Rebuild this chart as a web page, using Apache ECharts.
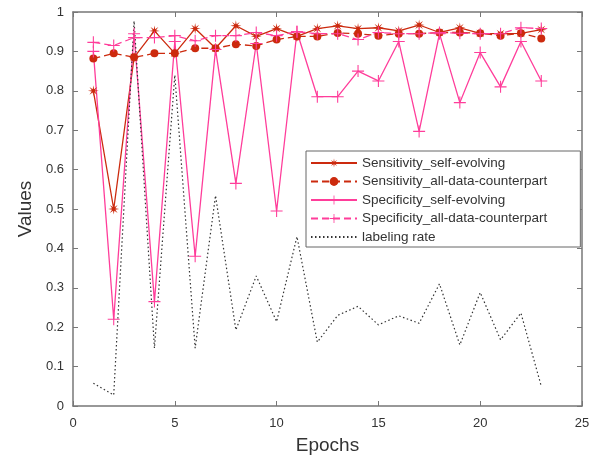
<!DOCTYPE html>
<html><head><meta charset="utf-8">
<script src="https://cdn.jsdelivr.net/npm/echarts@6/dist/echarts.min.js"></script>
<style>html,body{margin:0;padding:0;background:#fff}#c{width:593px;height:459px}</style>
</head><body><div id="c"></div>
<script>
const epochs = [1,2,3,4,5,6,7,8,9,10,11,12,13,14,15,16,17,18,19,20,21,22,23];
const sensSelf = [0.80,0.50,0.885,0.952,0.895,0.958,0.908,0.965,0.938,0.958,0.938,0.958,0.965,0.958,0.96,0.952,0.967,0.948,0.96,0.946,0.945,0.946,0.955];
const sensAll  = [0.882,0.895,0.885,0.895,0.895,0.908,0.908,0.918,0.914,0.93,0.938,0.938,0.947,0.945,0.94,0.945,0.945,0.948,0.948,0.946,0.94,0.946,0.933];
const specSelf = [0.90,0.22,0.945,0.265,0.925,0.38,0.905,0.565,0.92,0.495,0.95,0.785,0.785,0.85,0.825,0.925,0.697,0.945,0.77,0.897,0.81,0.925,0.825];
const specAll  = [0.923,0.915,0.935,0.935,0.94,0.927,0.94,0.94,0.948,0.94,0.95,0.945,0.945,0.93,0.948,0.945,0.945,0.948,0.946,0.945,0.945,0.96,0.958];
const labelRate = [0.058,0.028,0.977,0.147,0.84,0.147,0.534,0.193,0.33,0.214,0.43,0.162,0.23,0.253,0.206,0.229,0.21,0.31,0.155,0.288,0.168,0.236,0.05];
const names = ['Sensitivity_self-evolving','Sensitivity_all-data-counterpart','Specificity_self-evolving','Specificity_all-data-counterpart','labeling rate'];

function starPath(n){let p=[];for(let i=0;i<2*n;i++){const r=i%2?0.32:1;const a=Math.PI*i/n-Math.PI/2;p.push((i?'L':'M')+(r*Math.cos(a)).toFixed(3)+','+(r*Math.sin(a)).toFixed(3));}return 'path://'+p.join('')+'Z';}
const star = starPath(8);
const plus = 'path://M-0.09,-1H0.09V-0.09H1V0.09H0.09V1H-0.09V0.09H-1V-0.09H-0.09Z';
const red='#cc2a0e', pink='#ff3d9a';
const pair = a => a.map((v,i)=>[epochs[i],v]);
const font='Liberation Sans';
const axisCommon = {axisLine:{onZero:false,lineStyle:{color:'#777',width:1.5}},axisTick:{inside:true,length:5,lineStyle:{color:'#777'}},splitLine:{show:false}};
const chart = echarts.init(document.getElementById('c'));
chart.setOption({
  animation:false,
  textStyle:{fontFamily:font},
  grid:{left:73,right:11,top:12,bottom:53,containLabel:false,outerBoundsMode:'none'},
  legend:{orient:'vertical',left:306,top:151,padding:[5,33,3,4],itemWidth:46,itemHeight:11,itemGap:4.5,
    borderColor:'#666',borderWidth:1,backgroundColor:'#fff',
    textStyle:{fontFamily:font,fontSize:13.5,color:'#333'},
    data:[names[0],names[1],names[2],names[3],{name:names[4],itemStyle:{opacity:0}}]},
  xAxis:[{type:'value',min:0,max:25,interval:5,...axisCommon,
      axisLabel:{color:'#333',fontSize:13,margin:11,fontFamily:font},
      name:'Epochs',nameLocation:'middle',nameGap:30,nameTextStyle:{fontSize:19,color:'#333',fontFamily:font}},
    {type:'value',position:'top',min:0,max:25,interval:5,...axisCommon,axisLabel:{show:false}}],
  yAxis:[{type:'value',min:0,max:1,interval:0.1,...axisCommon,
      axisLabel:{color:'#333',fontSize:13,margin:9,fontFamily:font},
      name:'Values',nameLocation:'middle',nameGap:38,nameTextStyle:{fontSize:19,color:'#333',fontFamily:font}},
    {type:'value',position:'right',min:0,max:1,interval:0.1,...axisCommon,axisLabel:{show:false}}],
  series:[
    {name:names[0],type:'line',data:pair(sensSelf),symbol:star,symbolSize:11,lineStyle:{color:red,width:1.3},itemStyle:{color:red}},
    {name:names[1],type:'line',data:pair(sensAll),symbol:'circle',symbolSize:8,lineStyle:{color:red,width:1.3,type:[7,4]},itemStyle:{color:red}},
    {name:names[2],type:'line',data:pair(specSelf),symbol:plus,symbolSize:12,lineStyle:{color:pink,width:1.3},itemStyle:{color:pink}},
    {name:names[3],type:'line',data:pair(specAll),symbol:plus,symbolSize:12,lineStyle:{color:pink,width:1.3,type:[7,4]},itemStyle:{color:pink}},
    {name:names[4],type:'line',data:pair(labelRate),showSymbol:false,symbol:'none',lineStyle:{color:'#333',width:1.2,type:[1.5,2.5]},itemStyle:{color:'#333'}}
  ]
});
</script></body></html>
